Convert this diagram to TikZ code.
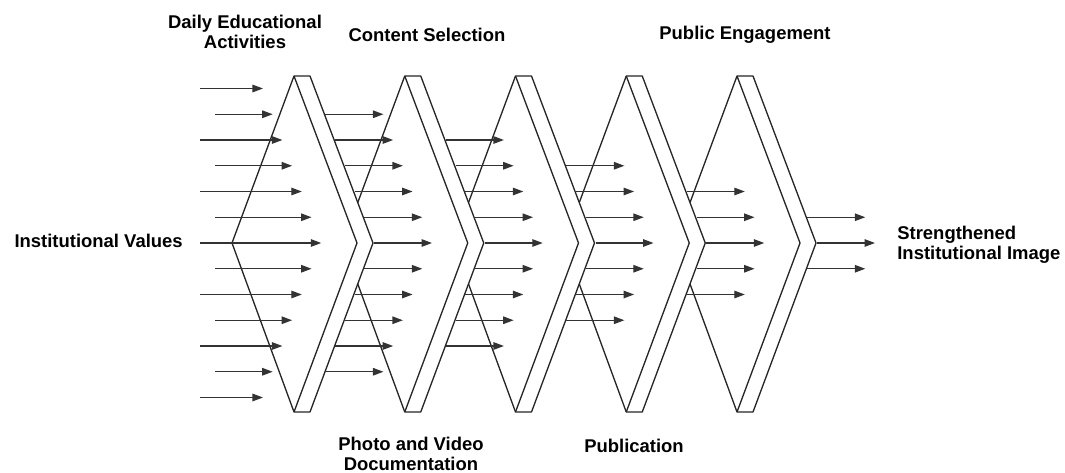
\documentclass[tikz,border=0pt]{standalone}
\usepackage{fontspec}
\setmainfont{Liberation Sans}
\usetikzlibrary{arrows.meta}
\tikzset{
	stage/.style={draw=black!85, line width=0.75pt, fill=white, line join=round},
	flow/.style={draw=black!80, line width=0.75pt, -{Triangle[length=2.1mm,width=1.5mm]}},
	lbl/.style={font=\fontsize{10.5}{11.5}\selectfont\bfseries, align=center, inner sep=0pt}
}

\begin{document}
\begin{tikzpicture}[x=0.02cm, y=-0.02cm]
		%%%%% START %%%%%
		\useasboundingbox (0,0) rectangle (1065,473);
		
		% chevrons, right one first so the left one covers it
		\foreach \k in {5,4,3,2,1}{
			\pgfmathsetmacro\T{294+110.75*(\k-1)}
			\draw[stage] (\T-62,243) -- (\T,76) -- (\T+16,76) -- (\T+79,243) -- (\T+16,412) -- (\T,412) -- cycle;
			\draw[stage, fill=none] (\T,76) -- (\T+63,243) -- (\T,412);
		}
		
		% arrows
		\foreach \g in {1,...,6}{
			\pgfmathtruncatemacro\n{7-\g}
			\pgfmathtruncatemacro\lo{-\n}
			\foreach \j in {\lo,...,\n}{
				\pgfmathsetmacro\tip{183.25+110.75*(\g-1)+138-9.71*abs(\j)}
				\pgfmathsetmacro\st{ifthenelse(\g==1, ifthenelse(mod(abs(\j),2)==0,200,215), \tip-58)}
				\coordinate (in) at (\st,243+25.75*\j);
				\coordinate (out) at (\tip,243+25.75*\j);
				\draw[flow] (in) -- (out);
			}
		}
		
		\node[lbl, anchor=east] (values) at (183,241) {Institutional Values};
		\node[lbl] (daily) at (245,32) {Daily Educational\\Activities};
		\node[lbl] (selection) at (427,35) {Content Selection};
		\node[lbl] (engagement) at (745,35) {Public Engagement};
		\node[lbl] (documentation) at (411,454) {Photo and Video\\Documentation};
		\node[lbl] (publication) at (634,446) {Publication};
		\node[lbl, anchor=west, align=left] (image) at (897,245) {Strengthened\\Institutional Image};
		
		%%%%% END %%%%%
\end{tikzpicture}
\end{document}
